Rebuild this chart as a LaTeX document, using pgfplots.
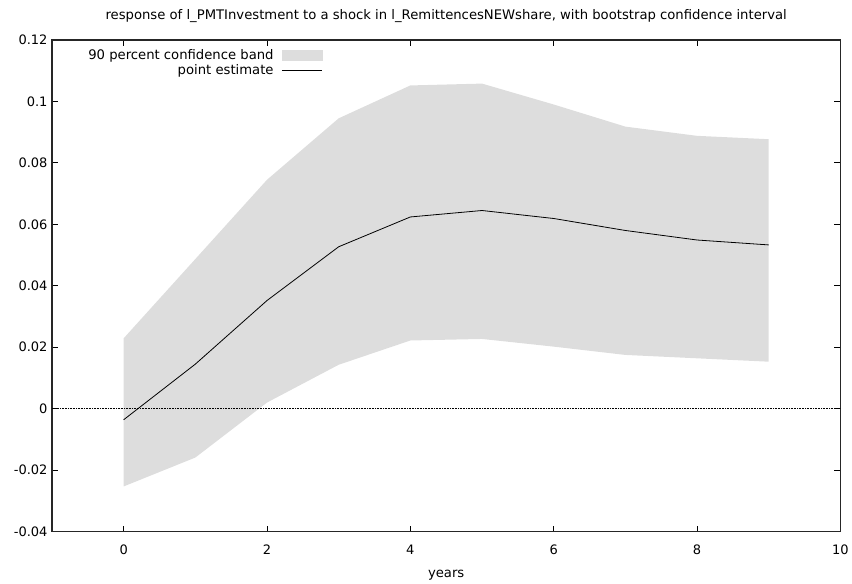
\documentclass[border=0pt]{standalone}
\usepackage{pgfplots}
\pgfplotsset{compat=1.18}
\usepgfplotslibrary{fillbetween}
\usepackage{pgfplotstable}
\usepackage{fontspec}
\setmainfont{DejaVu Sans}
\definecolor{bandgray}{RGB}{221,221,221}

% impulse response with 90% bootstrap band
\pgfplotstableread{
x lo pe hi
0 -0.0253 -0.0036 0.0229
1 -0.0159 0.0145 0.0487
2 0.0020 0.0352 0.0745
3 0.0143 0.0527 0.0945
4 0.0222 0.0624 0.1052
5 0.0227 0.0645 0.1058
6 0.0202 0.0619 0.0990
7 0.0175 0.0580 0.0918
8 0.0164 0.0549 0.0888
9 0.0153 0.0533 0.0877
}\irf

\begin{document}
\begin{tikzpicture}
\begin{axis}[
  name=ax,
  scale only axis,
  width=789pt, height=492pt,
  xmin=-1, xmax=10,
  ymin=-0.04, ymax=0.12,
  xtick={0,2,4,6,8,10},
  xticklabels={0,2,4,6,8,10},
  ytick={-0.04,-0.02,0,0.02,0.04,0.06,0.08,0.1,0.12},
  yticklabels={-0.04,-0.02,0,0.02,0.04,0.06,0.08,0.1,0.12},
  tick align=inside,
  major tick length=6pt,
  tick style={black, line width=0.8pt},
  axis line style={line width=1.2pt, black!85},
  font=\fontsize{13.2}{15}\selectfont,
  tick label style={font=\fontsize{13}{15}\selectfont},
  xticklabel style={yshift=-10pt},
  yticklabel style={xshift=-1pt},
  xlabel={years},
  xlabel style={yshift=-8pt},
  title={response of l\_PMTInvestment to a shock in l\_RemittencesNEWshare, with bootstrap confidence interval},
  title style={yshift=8pt},
  legend style={at={(axis description cs:0.347,0.99)}, anchor=north east,
    draw=none, fill=none, font=\fontsize{13.2}{15}\selectfont, row sep=0pt},
  legend cell align=right,
  legend plot pos=right,
]
\addplot[name path=up, draw=none, forget plot] table[x=x, y=hi] {\irf};
\addplot[name path=lo, draw=none, forget plot] table[x=x, y=lo] {\irf};
\addplot[bandgray, legend image code/.code={\path (0pt,0pt); \fill[bandgray] (6pt,-5pt) rectangle (46pt,5pt);}]
  fill between[of=up and lo];
\addlegendentry{90 percent confidence band}
\addplot[black, line width=0.7pt, dash pattern=on 1pt off 0.6pt, forget plot] coordinates {(-1,0) (10,0)};
\addplot[black, line width=0.8pt, legend image code/.code={\path (0pt,0pt); \draw[black, line width=0.8pt] (6pt,0pt) -- (46pt,0pt);}]
  table[x=x, y=pe] {\irf};
\addlegendentry{point estimate}
\end{axis}
\path (ax.south west) ++(-52pt,-48pt) coordinate (a);
\path (ax.north east) ++(11pt,40pt) coordinate (b);
\path (a) rectangle (b);
\end{tikzpicture}
\end{document}
